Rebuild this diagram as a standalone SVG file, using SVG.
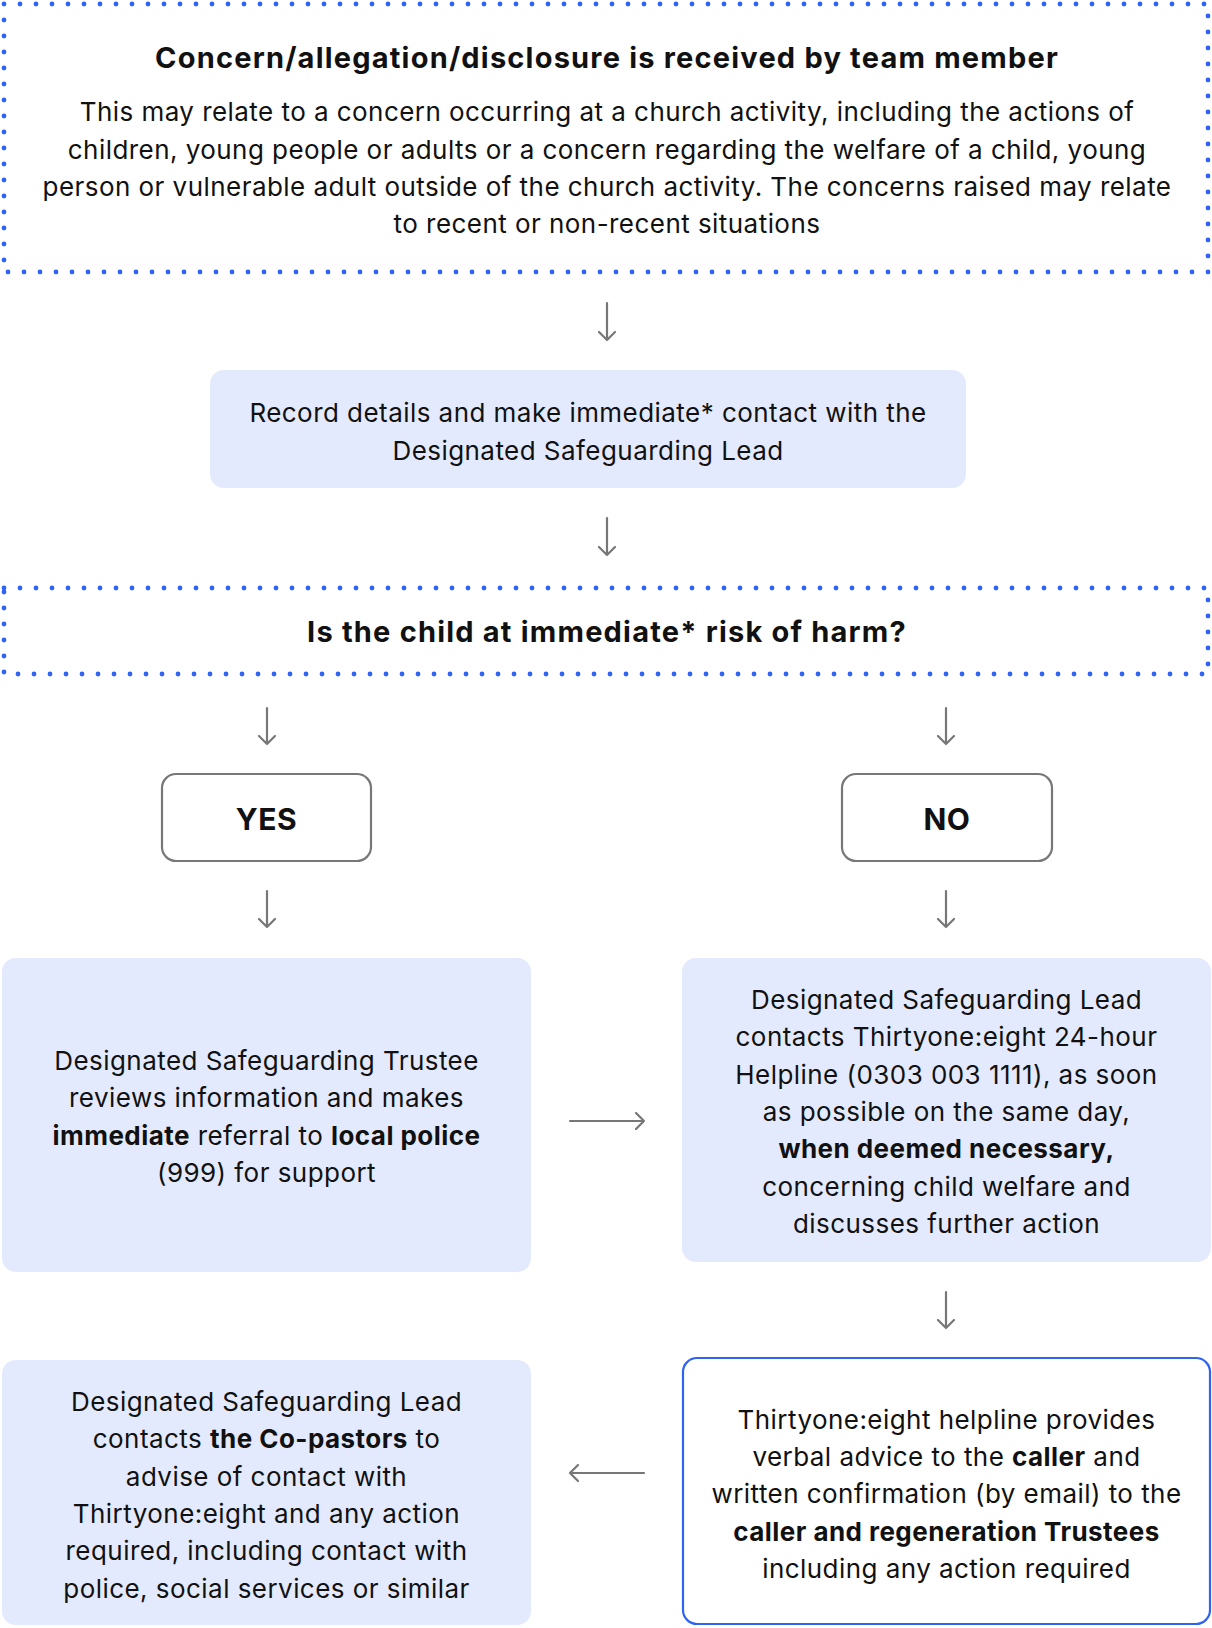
<svg xmlns="http://www.w3.org/2000/svg" width="1212" height="1628" viewBox="0 0 1212 1628">
<defs>
<style>
text{font-family:Inter,"Noto Sans",sans-serif;fill:#111;text-anchor:middle}
.t{font-size:26px;letter-spacing:0.45px}
.b{font-weight:700}
.h{font-size:29px;font-weight:700;letter-spacing:1.2px}
.yn{font-size:30px;font-weight:700;letter-spacing:0.5px}
.dot{fill:none;stroke:#2f63f3;stroke-width:4.8;stroke-dasharray:0 16;stroke-linecap:round}
.fill{fill:#e4eafd}
.gray{fill:#fff;stroke:#777;stroke-width:2.2}
.blue{fill:#fff;stroke:#2f63f3;stroke-width:2.2}
.ar{fill:none;stroke:#777;stroke-width:2.2;stroke-linecap:round;stroke-linejoin:round}
</style>
</defs>
<rect width="1212" height="1628" fill="#fff"/>
<g id="connectors">
<path class="ar" d="M607 303V340M599 332L607 340L615 332"/>
<path class="ar" d="M607 518V555M599 547L607 555L615 547"/>
<path class="ar" d="M267 708V744M259 736L267 744L275 736"/>
<path class="ar" d="M946 708V744M938 736L946 744L954 736"/>
<path class="ar" d="M267 891V927M259 919L267 927L275 919"/>
<path class="ar" d="M946 891V927M938 919L946 927L954 919"/>
<path class="ar" d="M570 1121H644M636 1113L644 1121L636 1129"/>
<path class="ar" d="M946 1292V1328M938 1320L946 1328L954 1320"/>
<path class="ar" d="M644 1473H570M578 1465L570 1473L578 1481"/>
</g>
<g id="n1">
<rect class="dot" x="4" y="4" width="1204" height="268"/>
<text class="h" x="607" y="68">Concern/allegation/disclosure is received by team member</text>
<text class="t" x="607" y="121">This may relate to a concern occurring at a church activity, including the actions of</text>
<text class="t" x="607" y="158.5">children, young people or adults or a concern regarding the welfare of a child, young</text>
<text class="t" x="607" y="196">person or vulnerable adult outside of the church activity. The concerns raised may relate</text>
<text class="t" x="607" y="233">to recent or non-recent situations</text>
</g>
<g id="n2">
<rect class="fill" x="210" y="370" width="756" height="118" rx="14"/>
<text class="t" x="588" y="421.5">Record details and make immediate* contact with the</text>
<text class="t" x="588" y="459.5">Designated Safeguarding Lead</text>
</g>
<g id="n3">
<rect class="dot" x="4" y="588" width="1204" height="86"/>
<text class="h" x="607" y="641.5">Is the child at immediate* risk of harm?</text>
</g>
<g id="yes">
<rect class="gray" x="162" y="774" width="209" height="87" rx="14"/>
<text class="yn" x="266.5" y="830">YES</text>
</g>
<g id="no">
<rect class="gray" x="842" y="774" width="210" height="87" rx="14"/>
<text class="yn" x="947" y="830">NO</text>
</g>
<g id="n4">
<rect class="fill" x="2" y="958" width="529" height="314" rx="14"/>
<text class="t" x="266.5" y="1069.5">Designated Safeguarding Trustee</text>
<text class="t" x="266.5" y="1107">reviews information and makes</text>
<text class="t" x="266.5" y="1144.5"><tspan class="b">immediate</tspan> referral to <tspan class="b">local police</tspan></text>
<text class="t" x="266.5" y="1181.5">(999) for support</text>
</g>
<g id="n5">
<rect class="fill" x="682" y="958" width="529" height="304" rx="14"/>
<text class="t" x="946.5" y="1008.5">Designated Safeguarding Lead</text>
<text class="t" x="946.5" y="1046">contacts Thirtyone:eight 24-hour</text>
<text class="t" x="946.5" y="1083.5">Helpline (0303 003 1111), as soon</text>
<text class="t" x="946.5" y="1120.5">as possible on the same day,</text>
<text class="t b" x="946.5" y="1158">when deemed necessary,</text>
<text class="t" x="946.5" y="1195.5">concerning child welfare and</text>
<text class="t" x="946.5" y="1232.5">discusses further action</text>
</g>
<g id="n6">
<rect class="fill" x="2" y="1360" width="529" height="265" rx="14"/>
<text class="t" x="266.5" y="1410.5">Designated Safeguarding Lead</text>
<text class="t" x="266.5" y="1448">contacts <tspan class="b">the Co-pastors</tspan> to</text>
<text class="t" x="266.5" y="1485.5">advise of contact with</text>
<text class="t" x="266.5" y="1522.5">Thirtyone:eight and any action</text>
<text class="t" x="266.5" y="1560">required, including contact with</text>
<text class="t" x="266.5" y="1597.5">police, social services or similar</text>
</g>
<g id="n7">
<rect class="blue" x="683" y="1358" width="527" height="266" rx="14"/>
<text class="t" x="946.5" y="1428.5">Thirtyone:eight helpline provides</text>
<text class="t" x="946.5" y="1465.5">verbal advice to the <tspan class="b">caller</tspan> and</text>
<text class="t" x="946.5" y="1503">written confirmation (by email) to the</text>
<text class="t b" x="946.5" y="1540.5">caller and regeneration Trustees</text>
<text class="t" x="946.5" y="1577.5">including any action required</text>
</g>
</svg>
